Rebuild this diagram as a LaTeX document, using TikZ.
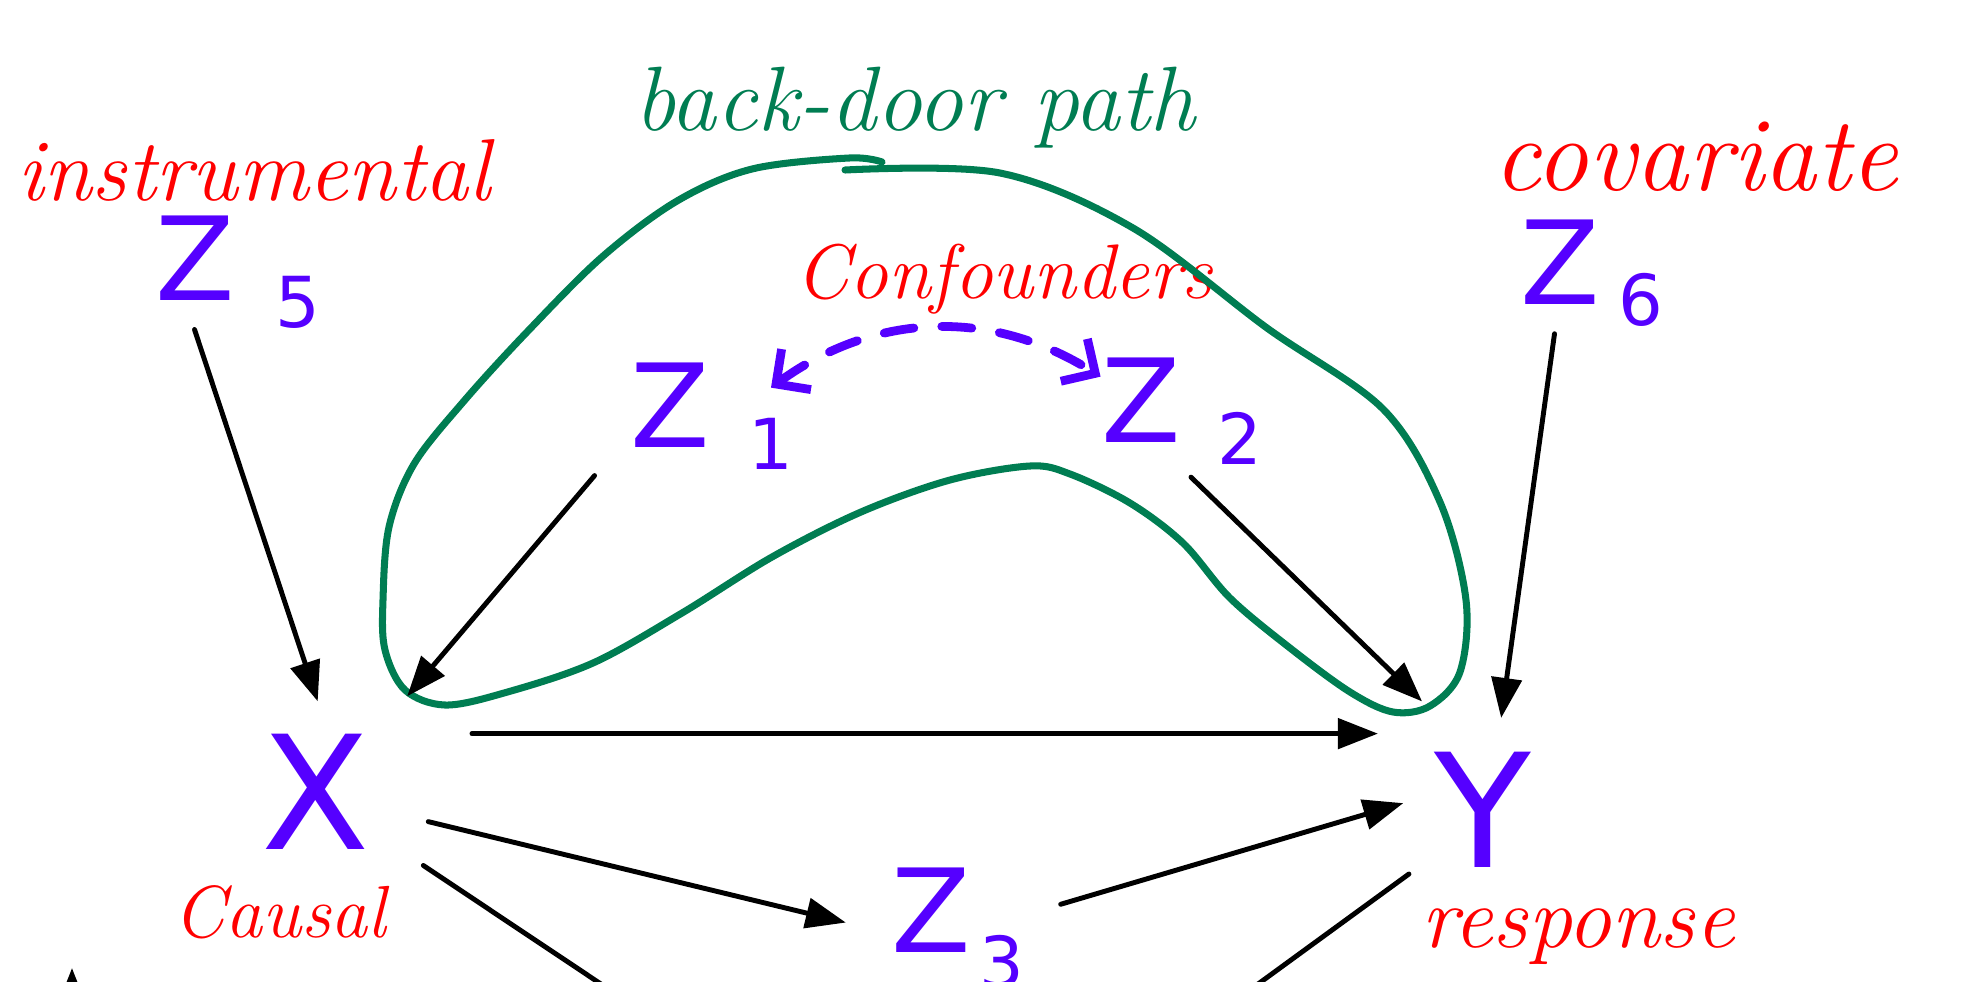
\documentclass[tikz,border=0pt]{standalone}
\usepackage{fontspec}
\newfontfamily\varfont{DejaVu Sans}
\usetikzlibrary{arrows.meta}
\definecolor{varblue}{RGB}{85,0,255}
\definecolor{labred}{RGB}{255,0,0}
\definecolor{doorgreen}{RGB}{0,125,82}
\begin{document}
\begin{tikzpicture}[x=0.01cm, y=-0.01cm,
  var/.style={text=varblue, inner sep=0pt, font=\varfont\fontsize{33}{33}\selectfont},
  bigvar/.style={var, font=\varfont\fontsize{45}{45}\selectfont},
  sub/.style={text=varblue, inner sep=0pt, font=\varfont\fontsize{20}{20}\selectfont},
  lab/.style={text=labred, anchor=base, inner sep=0pt, font=\itshape\fontsize{#1}{#1}\selectfont},
  arr/.style={line width=1.4pt, line cap=round, -{Triangle[length=0.4cm,width=0.3cm]}},
  conf/.style={varblue, line width=2.5pt, line cap=round, dash pattern=on 0.3cm off 0.28cm,
    {Straight Barb[length=0.25cm,width=0.5cm]}-{Straight Barb[length=0.25cm,width=0.5cm]}},
  doorline/.style={doorgreen, line width=2pt, line cap=round, line join=round}]
  \useasboundingbox (0,0) rectangle (1966,981);
  \clip (0,0) rectangle (1966,981);
  % variables
  \node[var] (z5) at (195,258) {Z};
  \node[sub] (z5s) at (298,302) {5};
  \node[var] (z6) at (1560,262) {Z};
  \node[sub] (z6s) at (1641,300) {6};
  \node[var] (z1) at (670,405) {Z};
  \node[sub] (z1s) at (771,444) {1};
  \node[var] (z2) at (1141,400) {Z};
  \node[sub] (z2s) at (1240,438) {2};
  \node[var] (z3) at (931,910) {Z};
  \node[sub] (z3s) at (1002,962) {3};
  \node[bigvar] (x) at (316,792) {X};
  \node[bigvar] (y) at (1483,810) {Y};
  \coordinate (z4) at (944,1213);
  % labels
  \node[lab=25] (instr) at (254,200) {instrumental};
  \node[lab=26, text=doorgreen] (door) at (915,130) {back-door path};
  \node[lab=30] (covar) at (1696,190) {covariate};
  \node[lab=22] (confd) at (1004,298) {Confounders};
  \node[lab=21] (causal) at (280,937) {Causal};
  \node[lab=25] (resp) at (1578,947) {response};
  % back-door loop
  \draw[doorline] plot[smooth, tension=0.55] coordinates {
    (845,170) (1000,173) (1133,228) (1267,328) (1383,409) (1440,502) (1466,600)
    (1460,672) (1430,706) (1393,712) (1350,692) (1290,648) (1230,598) (1183,543)
    (1130,503) (1070,474) (1030,466) (950,480) (861,512) (772,557) (682,613)
    (593,663) (504,693) (445,705) (405,690) (385,650) (383,600) (389,527)
    (414,464) (464,401) (527,332) (602,257) (677,201) (752,169) (849,158) (882,162)};
  % confounders
  \draw[conf] ([yshift=0.3cm]z1s.north) to[bend left=34] (z2.150);
  % arrows
  \draw[arr, shorten <=0.30cm, shorten >=0.34cm] (z5.-103.6) -- (x.78.8);
  \draw[arr, shorten <=0.54cm, shorten >=0.56cm] (z1.-144) -- (x.44.5);
  \draw[arr, shorten <=0.49cm, shorten >=0.72cm] (z2.-71.6) -- (y.99.4);
  \draw[arr, shorten <=0.29cm, shorten >=0.34cm] (z6.-92.7) -- (y.77);
  \draw[arr, shorten <=1.01cm, shorten >=0.56cm] (x.north east) -- (x.north east -| y.west);
  \draw[arr, shorten <=0.59cm, shorten >=0.46cm] (x.-16.4) -- (z3.-150.3);
  \draw[arr, shorten <=0.93cm, shorten >=0.32cm] (z3.-27.8) -- (y.162.5);
  \draw[arr, shorten <=0.63cm, shorten >=0.5cm] (x.-35.8) -- (z4);
  \draw[arr, shorten <=0.31cm, shorten >=0.5cm] (y.-137) -- (z4);
  % cut off at the bottom
  \coordinate (tipbot) at (72,968);
  \coordinate (tailbot) at (72,1100);
  \draw[arr] (tailbot) -- (tipbot);
\end{tikzpicture}
\end{document}
